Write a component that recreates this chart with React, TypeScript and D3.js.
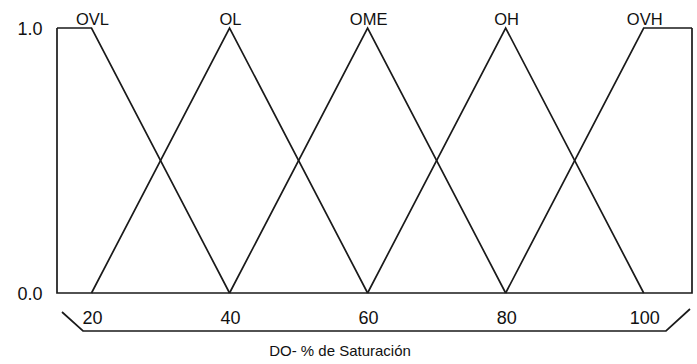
import React from "react";
import * as d3 from "d3";

const setNames = ["OVL", "OL", "OME", "OH", "OVH"];
const setPoints: number[][] = [
  [15, 20, 40],
  [20, 40, 60],
  [40, 60, 80],
  [60, 80, 100],
  [80, 100, 107],
];
const setMembership: number[][] = [
  [1, 1, 0],
  [0, 1, 0],
  [0, 1, 0],
  [0, 1, 0],
  [0, 1, 1],
];
const labelAt = [20, 40, 60, 80, 100];
const xTicks = [20, 40, 60, 80, 100];
const yTicks = [0, 1];
const xTitle = "DO- % de Saturación";

export default function App() {
  const W = 697, H = 364;
  const x = d3.scaleLinear().domain([15, 107]).range([57, 692]);
  const y = d3.scaleLinear().domain([0, 1]).range([293, 28]);
  const line = d3.line<[number, number]>().x((d) => x(d[0])).y((d) => y(d[1]));
  const stroke = "#1a1a1a";
  const font = "'Liberation Sans', Arial, sans-serif";
  const sw = 1.7;
  return (
    <svg width={W} height={H} style={{ position: "absolute", left: 0, top: 0, background: "#fff" }}>
      <rect x={0} y={0} width={W} height={H} fill="#fff" />
      <path d={`M${x(15)},${y(1)} L${x(15)},${y(0)} L${x(107)},${y(0)} L${x(107)},${y(1)}`} fill="none" stroke={stroke} strokeWidth={sw} />
      {setPoints.map((pts, i) => (
        <path key={i} d={line(pts.map((p, j) => [p, setMembership[i][j]] as [number, number])) || ""} fill="none" stroke={stroke} strokeWidth={sw} />
      ))}
      {setNames.map((n, i) => (
        <text key={n} x={x(labelAt[i]) + 1} y={25} textAnchor="middle" fontFamily={font} fontSize={16.5} fill="#111">{n}</text>
      ))}
      {yTicks.map((t) => (
        <text key={t} x={30} y={y(t) + 7} textAnchor="middle" fontFamily={font} fontSize={18} fill="#111">{t.toFixed(1)}</text>
      ))}
      {xTicks.map((t) => (
        <text key={t} x={x(t) + 1} y={324} textAnchor="middle" fontFamily={font} fontSize={18} fill="#111">{t}</text>
      ))}
      <path d={`M62,312 L83,331 L666,331 L690,309`} fill="none" stroke={stroke} strokeWidth={sw} />
      <text x={340} y={356} textAnchor="middle" fontFamily={font} fontSize={15} fill="#111">{xTitle}</text>
    </svg>
  );
}
